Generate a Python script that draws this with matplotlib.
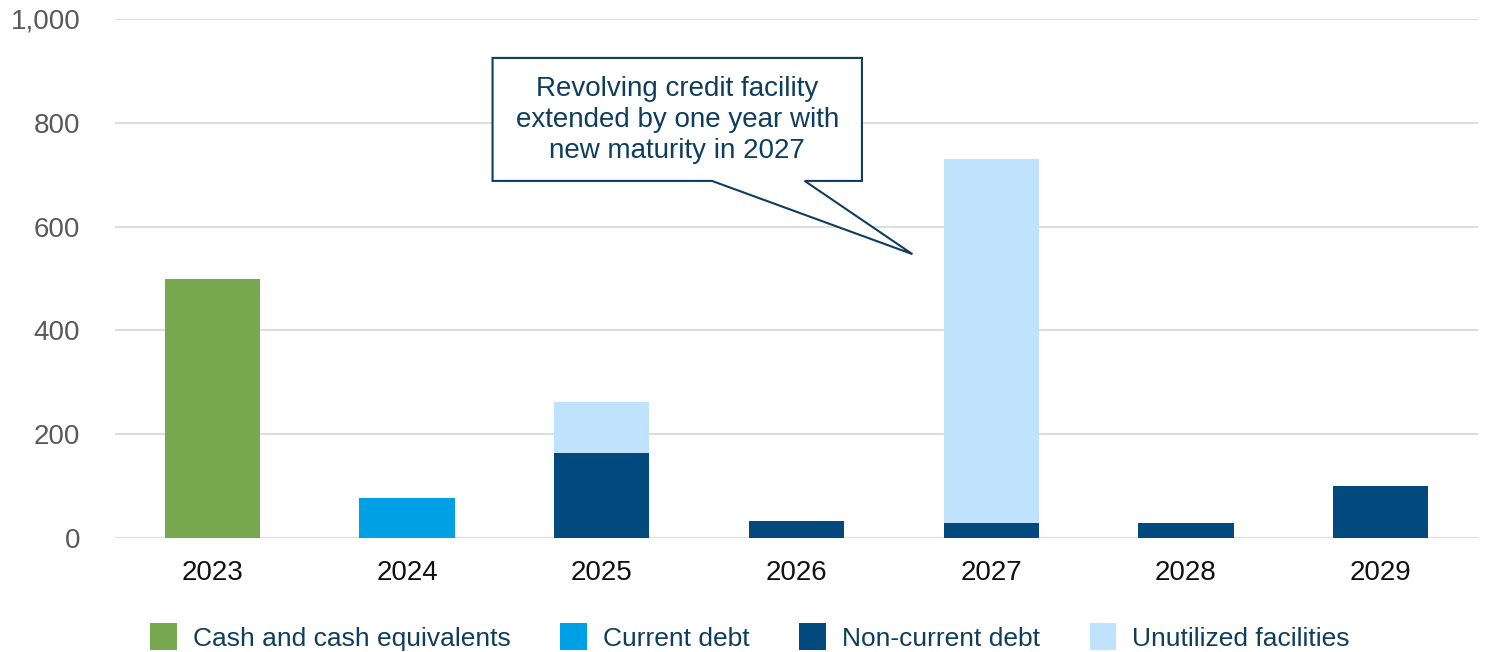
import numpy as np
import matplotlib.pyplot as plt
from matplotlib.patches import Polygon, Patch

#---------------------------------
# Data
#---------------------------------

years = ["2023", "2024", "2025", "2026", "2027", "2028", "2029"]
cash = [500, 0, 0, 0, 0, 0, 0]
current_debt = [0, 77, 0, 0, 0, 0, 0]
non_current_debt = [0, 0, 163, 32, 28, 29, 100]
unutilized = [0, 0, 100, 0, 702, 0, 0]

series_names = ["Cash and cash equivalents", "Current debt",
                "Non-current debt", "Unutilized facilities"]
colors = ["#76A94F", "#00A0E6", "#024A7E", "#BFE3FD"]

callout_text = "Revolving credit facility\nextended by one year with\nnew maturity in 2027"

NAVY = "#0F3D5E"

#---------------------------------
# Plot
#---------------------------------

plt.rcParams["font.family"] = ["Liberation Sans", "DejaVu Sans"]

fig = plt.figure(figsize=(14.91, 6.52), dpi=100)
ax = fig.add_axes([115 / 1491, 1 - 538 / 652, 1363 / 1491, 519 / 652])

x = np.arange(len(years))
w = 0.49
bottom = np.zeros(len(years))
for vals, col in zip([cash, current_debt, non_current_debt, unutilized], colors):
    vals = np.array(vals, dtype=float)
    ax.bar(x, vals, width=w, bottom=bottom, color=col, zorder=3)
    bottom += vals

ax.set_xlim(-0.5, len(years) - 0.5)
ax.set_ylim(0, 1000)
ax.set_yticks([0, 200, 400, 600, 800, 1000])
ax.set_yticklabels(["0", "200", "400", "600", "800", "1,000"])
ax.set_xticks(x)
ax.set_xticklabels(years)
ax.tick_params(axis="y", length=0, pad=25, labelsize=20, labelcolor="#595959")
ax.tick_params(axis="x", length=0, pad=16, labelsize=20, labelcolor="#111111")
ax.grid(axis="y", color="#DDDDDD", lw=1.5, zorder=0)
ax.set_axisbelow(True)
for s in ax.spines.values():
    s.set_visible(False)

# callout box with tail (axes fraction coords)
pts = [(0.277, 0.688), (0.438, 0.688), (0.585, 0.547), (0.506, 0.688),
       (0.548, 0.688), (0.548, 0.925), (0.277, 0.925)]
ax.add_patch(Polygon(pts, closed=True, transform=ax.transAxes,
                     facecolor="white", edgecolor=NAVY, lw=1.5, zorder=5))
ax.text(0.4125, 0.805, callout_text, transform=ax.transAxes, ha="center",
        va="center", fontsize=20, color=NAVY, linespacing=1.25, zorder=6)

handles = [Patch(facecolor=c, edgecolor="none") for c in colors]
fig.legend(handles, series_names, loc="center", bbox_to_anchor=(0.503, 1 - 637 / 652),
           ncol=4, frameon=False, fontsize=19, handlelength=1.0, handleheight=1.2,
           handletextpad=0.6, columnspacing=1.9, labelcolor=NAVY)

fig.savefig("out.png", dpi=100)
